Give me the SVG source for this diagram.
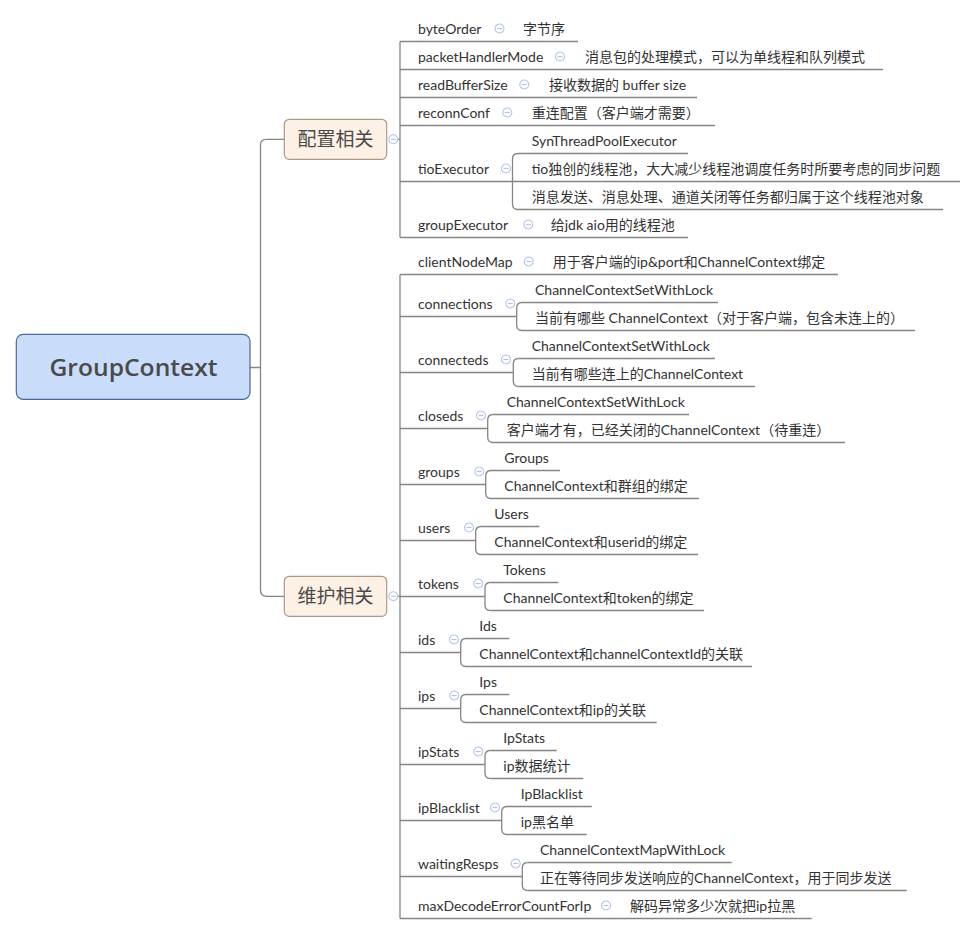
<svg xmlns="http://www.w3.org/2000/svg" width="976" height="934" viewBox="0 0 976 934">
<style>
.t{font-family:Lato,"Noto Sans CJK SC",sans-serif;font-size:14px;fill:#333}
.b{font-family:"Noto Sans CJK SC",sans-serif;font-size:19px;fill:#4a4a4a;text-anchor:middle}
.r{font-family:"Open Sans","Noto Sans",sans-serif;font-size:24px;font-weight:600;fill:#4a4a4a;text-anchor:middle}
.ln{fill:none;stroke:#858585;stroke-width:1.3}
.cb{fill:#fff;stroke:#b3c3e8;stroke-width:1.1}
.cm{stroke:#b3c3e8;stroke-width:1.1}
</style>
<defs>
<g id="col"><circle class="cb" r="4.5"/><line class="cm" x1="-2.5" y1="0" x2="2.5" y2="0"/></g>
</defs>
<rect width="976" height="934" fill="#fff"/>
<g id="connectors">
<path class="ln" d="M250 367.5H260.5M260.5 367.5V145Q260.5 139.3 266.5 139.3H284.3M260.5 367.5V590Q260.5 596.3 266.5 596.3H284.3"/>
<path class="ln" d="M400 139.3H397.8M400 596.3H397.8"/>
<path class="ln" d="M400 41.5V237.5"/>
<path class="ln" d="M400 274.5V918.5"/>
<path class="ln" d="M518 153.5Q512.5 153.5 512.5 159V204Q512.5 209.5 518 209.5"/>
<path class="ln" d="M522 302.5Q516.7 302.5 516.7 308V325Q516.7 330.5 522 330.5"/>
<path class="ln" d="M518.5 358.5Q513.3 358.5 513.3 364V381Q513.3 386.5 518.5 386.5"/>
<path class="ln" d="M493 414.5Q487.7 414.5 487.7 420V437Q487.7 442.5 493 442.5"/>
<path class="ln" d="M491 470.5Q485.7 470.5 485.7 476V493Q485.7 498.5 491 498.5"/>
<path class="ln" d="M481 526.5Q475.7 526.5 475.7 532V549Q475.7 554.5 481 554.5"/>
<path class="ln" d="M490.3 582.5Q485 582.5 485 588V605Q485 610.5 490.3 610.5"/>
<path class="ln" d="M466 638.5Q460.7 638.5 460.7 644V661Q460.7 666.5 466 666.5"/>
<path class="ln" d="M466 694.5Q460.7 694.5 460.7 700V717Q460.7 722.5 466 722.5"/>
<path class="ln" d="M490.3 750.5Q485 750.5 485 756V773Q485 778.5 490.3 778.5"/>
<path class="ln" d="M507 806.5Q501.7 806.5 501.7 812V829Q501.7 834.5 507 834.5"/>
<path class="ln" d="M527.6 862.5Q522.3 862.5 522.3 868V885Q522.3 890.5 527.6 890.5"/>
</g>

<g id="root">
<rect x="16.3" y="334.3" width="233.7" height="65" rx="7" fill="#c9ddfb" stroke="#4d6797" stroke-width="1.2"/>
<text class="r" x="133.5" y="376" textLength="168" lengthAdjust="spacingAndGlyphs">GroupContext</text>
</g>

<g id="branch-config">
<rect x="284.3" y="119.3" width="102.4" height="40" rx="5" fill="#fdf0e5" stroke="#a99a8c" stroke-width="1.2"/>
<text class="b" x="335.5" y="145.8">配置相关</text>
<use href="#col" x="393.3" y="139.3"/>
</g>
<g id="branch-maint">
<rect x="284.3" y="576.3" width="102.4" height="40" rx="5" fill="#fdf0e5" stroke="#a99a8c" stroke-width="1.2"/>
<text class="b" x="335.5" y="602.8">维护相关</text>
<use href="#col" x="393.3" y="596.3"/>
</g>

<!-- config children -->
<g id="byteOrder"><text class="t" x="418" y="33.5">byteOrder</text><use href="#col" x="499.5" y="28.5"/><path class="ln" d="M400 41.5H515"/></g>
<g id="byteOrder-c"><text class="t" x="523" y="33.5">字节序</text><path class="ln" d="M515 41.5H578"/></g>

<g id="packetHandlerMode"><text class="t" x="418" y="61.5">packetHandlerMode</text><use href="#col" x="560" y="56.5"/><path class="ln" d="M400 69.5H577"/></g>
<g id="packetHandlerMode-c"><text class="t" x="585" y="61.5">消息包的处理模式，可以为单线程和队列模式</text><path class="ln" d="M577 69.5H883"/></g>

<g id="readBufferSize"><text class="t" x="418" y="89.5">readBufferSize</text><use href="#col" x="524.3" y="84.5"/><path class="ln" d="M400 97.5H541"/></g>
<g id="readBufferSize-c"><text class="t" x="549" y="89.5">接收数据的 buffer size</text><path class="ln" d="M541 97.5H697"/></g>

<g id="reconnConf"><text class="t" x="418" y="117.5">reconnConf</text><use href="#col" x="507.3" y="112.5"/><path class="ln" d="M400 125.5H524"/></g>
<g id="reconnConf-c"><text class="t" x="531.7" y="117.5">重连配置（客户端才需要）</text><path class="ln" d="M524 125.5H715"/></g>

<g id="tioExecutor"><text class="t" x="418" y="173.5">tioExecutor</text><use href="#col" x="506" y="168.5"/><path class="ln" d="M400 181.5H512.5"/></g>
<g id="tioExecutor-c1"><text class="t" x="531.7" y="145.5">SynThreadPoolExecutor</text><path class="ln" d="M518 153.5H688"/></g>
<g id="tioExecutor-c2"><text class="t" x="531.7" y="173.5">tio独创的线程池，大大减少线程池调度任务时所要考虑的同步问题</text><path class="ln" d="M512.5 181.5H960"/></g>
<g id="tioExecutor-c3"><text class="t" x="531.7" y="201.5">消息发送、消息处理、通道关闭等任务都归属于这个线程池对象</text><path class="ln" d="M518 209.5H943"/></g>

<g id="groupExecutor"><text class="t" x="418" y="229.5">groupExecutor</text><use href="#col" x="528.3" y="224.5"/><path class="ln" d="M400 237.5H543"/></g>
<g id="groupExecutor-c"><text class="t" x="550.7" y="229.5">给jdk aio用的线程池</text><path class="ln" d="M543 237.5H688"/></g>

<!-- maint children -->
<g id="clientNodeMap"><text class="t" x="418" y="266.5">clientNodeMap</text><use href="#col" x="528.7" y="261.5"/><path class="ln" d="M400 274.5H545"/></g>
<g id="clientNodeMap-c"><text class="t" x="552.7" y="266.5">用于客户端的ip&amp;port和ChannelContext绑定</text><path class="ln" d="M545 274.5H838"/></g>

<g id="connections"><text class="t" x="418" y="308.5">connections</text><use href="#col" x="510.3" y="303.5"/><path class="ln" d="M400 316.5H516.7"/></g>
<g id="connections-c1"><text class="t" x="535" y="294.5">ChannelContextSetWithLock</text><path class="ln" d="M522 302.5H718"/></g>
<g id="connections-c2"><text class="t" x="535" y="322.5">当前有哪些 ChannelContext（对于客户端，包含未连上的）</text><path class="ln" d="M522 330.5H915"/></g>

<g id="connecteds"><text class="t" x="418" y="364.5">connecteds</text><use href="#col" x="506" y="359.5"/><path class="ln" d="M400 372.5H513.3"/></g>
<g id="connecteds-c1"><text class="t" x="531.7" y="350.5">ChannelContextSetWithLock</text><path class="ln" d="M518.5 358.5H715"/></g>
<g id="connecteds-c2"><text class="t" x="531.7" y="378.5">当前有哪些连上的ChannelContext</text><path class="ln" d="M518.5 386.5H755"/></g>

<g id="closeds"><text class="t" x="418" y="420.5">closeds</text><use href="#col" x="481" y="415.5"/><path class="ln" d="M400 428.5H487.7"/></g>
<g id="closeds-c1"><text class="t" x="506.7" y="406.5">ChannelContextSetWithLock</text><path class="ln" d="M493 414.5H689"/></g>
<g id="closeds-c2"><text class="t" x="506.7" y="434.5">客户端才有，已经关闭的ChannelContext（待重连）</text><path class="ln" d="M493 442.5H845"/></g>

<g id="groups"><text class="t" x="418" y="476.5">groups</text><use href="#col" x="479.3" y="471.5"/><path class="ln" d="M400 484.5H485.7"/></g>
<g id="groups-c1"><text class="t" x="504.3" y="462.5">Groups</text><path class="ln" d="M491 470.5H560"/></g>
<g id="groups-c2"><text class="t" x="504.3" y="490.5">ChannelContext和群组的绑定</text><path class="ln" d="M491 498.5H699"/></g>

<g id="users"><text class="t" x="418" y="532.5">users</text><use href="#col" x="469" y="527.5"/><path class="ln" d="M400 540.5H475.7"/></g>
<g id="users-c1"><text class="t" x="494.3" y="518.5">Users</text><path class="ln" d="M481 526.5H539.3"/></g>
<g id="users-c2"><text class="t" x="494.3" y="546.5">ChannelContext和userid的绑定</text><path class="ln" d="M481 554.5H698"/></g>

<g id="tokens"><text class="t" x="418" y="588.5">tokens</text><use href="#col" x="478.3" y="583.5"/><path class="ln" d="M400 596.5H485"/></g>
<g id="tokens-c1"><text class="t" x="503.3" y="574.5">Tokens</text><path class="ln" d="M490.3 582.5H558.3"/></g>
<g id="tokens-c2"><text class="t" x="503.3" y="602.5">ChannelContext和token的绑定</text><path class="ln" d="M490.3 610.5H704"/></g>

<g id="ids"><text class="t" x="418" y="644.5">ids</text><use href="#col" x="454" y="639.5"/><path class="ln" d="M400 652.5H460.7"/></g>
<g id="ids-c1"><text class="t" x="479.3" y="630.5">Ids</text><path class="ln" d="M466 638.5H509.3"/></g>
<g id="ids-c2"><text class="t" x="479.3" y="658.5">ChannelContext和channelContextId的关联</text><path class="ln" d="M466 666.5H752"/></g>

<g id="ips"><text class="t" x="418" y="700.5">ips</text><use href="#col" x="454.3" y="695.5"/><path class="ln" d="M400 708.5H460.7"/></g>
<g id="ips-c1"><text class="t" x="479.3" y="686.5">Ips</text><path class="ln" d="M466 694.5H509.3"/></g>
<g id="ips-c2"><text class="t" x="479.3" y="714.5">ChannelContext和ip的关联</text><path class="ln" d="M466 722.5H656.7"/></g>

<g id="ipStats"><text class="t" x="418" y="756.5">ipStats</text><use href="#col" x="478.3" y="751.5"/><path class="ln" d="M400 764.5H485"/></g>
<g id="ipStats-c1"><text class="t" x="503.3" y="742.5">IpStats</text><path class="ln" d="M490.3 750.5H556.7"/></g>
<g id="ipStats-c2"><text class="t" x="503.3" y="770.5">ip数据统计</text><path class="ln" d="M490.3 778.5H583.3"/></g>

<g id="ipBlacklist"><text class="t" x="418" y="812.5">ipBlacklist</text><use href="#col" x="495" y="807.5"/><path class="ln" d="M400 820.5H501.7"/></g>
<g id="ipBlacklist-c1"><text class="t" x="520.7" y="798.5">IpBlacklist</text><path class="ln" d="M507 806.5H591.7"/></g>
<g id="ipBlacklist-c2"><text class="t" x="520.7" y="826.5">ip黑名单</text><path class="ln" d="M507 834.5H586.7"/></g>

<g id="waitingResps"><text class="t" x="418" y="868.5">waitingResps</text><use href="#col" x="515.7" y="863.5"/><path class="ln" d="M400 876.5H522.3"/></g>
<g id="waitingResps-c1"><text class="t" x="540" y="854.5">ChannelContextMapWithLock</text><path class="ln" d="M527.6 862.5H731.7"/></g>
<g id="waitingResps-c2"><text class="t" x="540" y="882.5">正在等待同步发送响应的ChannelContext，用于同步发送</text><path class="ln" d="M527.6 890.5H906.7"/></g>

<g id="maxDecodeErrorCountForIp"><text class="t" x="418" y="910.5">maxDecodeErrorCountForIp</text><use href="#col" x="606" y="905.5"/><path class="ln" d="M400 918.5H622"/></g>
<g id="maxDecodeErrorCountForIp-c"><text class="t" x="630" y="910.5">解码异常多少次就把ip拉黑</text><path class="ln" d="M622 918.5H811.7"/></g>
</svg>
